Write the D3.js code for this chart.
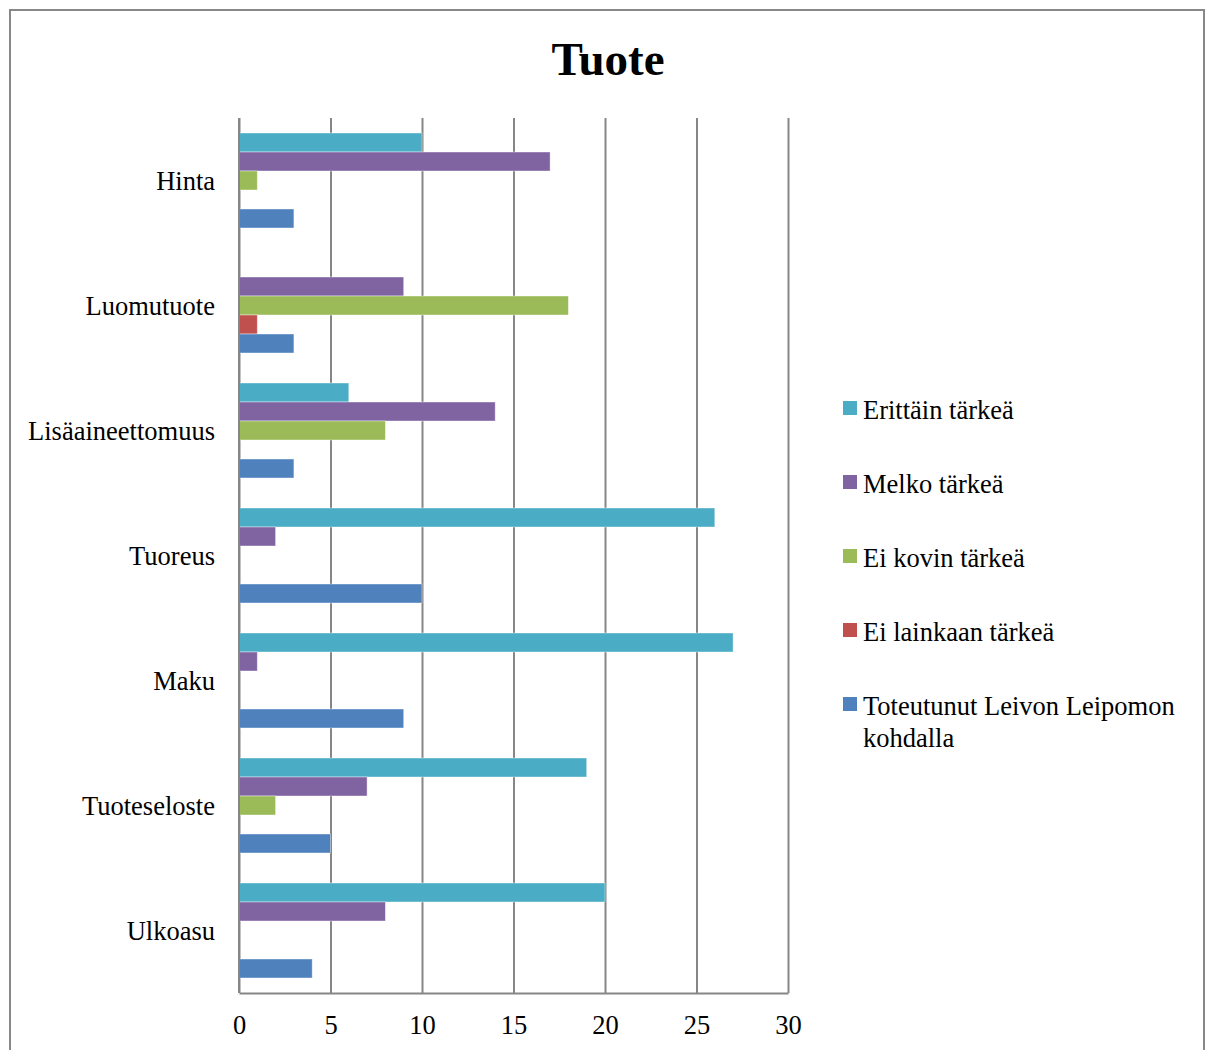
<!DOCTYPE html>
<html>
<head>
<meta charset="utf-8">
<script src="https://cdn.jsdelivr.net/npm/d3@7"></script>
<style>
  body { margin: 0; background: #fff; }
  text { font-family: "Liberation Serif", "Times New Roman", serif; fill: #000; }
</style>
</head>
<body>
<svg></svg>
<script>
var width = 1211;
var height = 1050;

var categories = ['Hinta', 'Luomutuote', 'Lisäaineettomuus', 'Tuoreus', 'Maku', 'Tuoteseloste', 'Ulkoasu'];
var seriesNames = ['Erittäin tärkeä', 'Melko tärkeä', 'Ei kovin tärkeä', 'Ei lainkaan tärkeä', 'Toteutunut Leivon Leipomon kohdalla'];
var seriesColors = ['#4bacc6', '#8064a2', '#9bbb59', '#c0504d', '#4f81bd'];

// one array per series, in category order
var erittain = [10, 0, 6, 26, 27, 19, 20];
var melko = [17, 9, 14, 2, 1, 7, 8];
var eiKovin = [1, 18, 8, 0, 0, 2, 0];
var eiLainkaan = [0, 1, 0, 0, 0, 0, 0];
var toteutunut = [3, 3, 3, 10, 9, 5, 4];
var xTicks = [0, 5, 10, 15, 20, 25, 30];

var seriesValues = [erittain, melko, eiKovin, eiLainkaan, toteutunut];

var plot = { left: 239, right: 788, top: 118, bottom: 993 };
var fontSize = '26.5px';

var svg = d3.select('svg')
    .attr('width', width)
    .attr('height', height);

// outer frame
svg.append('rect')
    .attr('x', 10)
    .attr('y', 10)
    .attr('width', 1194)
    .attr('height', 1100)
    .attr('fill', '#fff')
    .attr('stroke', '#888')
    .attr('stroke-width', 2);

var xScale = d3.scaleLinear()
    .domain([0, 30])
    .range([plot.left, plot.right]);

var yScale = d3.scaleBand()
    .domain(categories)
    .range([plot.top, plot.bottom]);

var ySub = d3.scaleBand()
    .domain(seriesNames)
    .range([15, yScale.bandwidth() - 15]);

// gridlines
var xAxis = d3.axisBottom(xScale)
    .tickValues(xTicks)
    .tickSize(-(plot.bottom - plot.top))
    .tickSizeOuter(0)
    .tickPadding(22);

var gx = svg.append('g')
    .attr('transform', `translate(0, ${plot.bottom})`)
    .call(xAxis);
gx.select('.domain').attr('stroke', '#868686').attr('stroke-width', 2);
gx.selectAll('.tick line').attr('stroke', '#868686').attr('stroke-width', 2);
gx.selectAll('.tick text')
    .style('font-family', '"Liberation Serif", "Times New Roman", serif')
    .style('font-size', fontSize)
    .attr('fill', '#000');

// bars
var groups = svg.selectAll('g.cat')
  .data(categories)
  .enter()
  .append('g')
    .attr('class', 'cat')
    .attr('transform', d => `translate(0, ${yScale(d)})`);

groups.selectAll('rect')
  .data((d, i) => seriesNames.map((s, j) => ({ series: s, value: seriesValues[j][i], color: seriesColors[j] })))
  .enter()
  .append('rect')
    .attr('x', xScale(0))
    .attr('y', d => ySub(d.series))
    .attr('width', d => xScale(d.value) - xScale(0))
    .attr('height', ySub.bandwidth())
    .attr('fill', d => d.color)
    .attr('stroke', d => d.value > 0 ? 'rgba(255,255,255,0.5)' : 'none')
    .attr('stroke-width', 0.8);

// left axis line sits over bars
svg.append('line')
    .attr('x1', plot.left)
    .attr('x2', plot.left)
    .attr('y1', plot.top)
    .attr('y2', plot.bottom)
    .attr('stroke', '#868686')
    .attr('stroke-width', 2);

// category labels
svg.selectAll('text.cat-label')
  .data(categories)
  .enter()
  .append('text')
    .attr('class', 'cat-label')
    .attr('x', 215)
    .attr('y', d => yScale(d) + yScale.bandwidth() / 2)
    .attr('dy', '0.36em')
    .style('text-anchor', 'end')
    .style('font-size', fontSize)
    .text(d => d);

// title
svg.append('text')
    .attr('x', 608)
    .attr('y', 75)
    .style('text-anchor', 'middle')
    .style('font-size', '47px')
    .style('font-weight', 'bold')
    .text('Tuote');

// legend
var legend = svg.selectAll('g.legend')
  .data(seriesNames)
  .enter()
  .append('g')
    .attr('class', 'legend')
    .attr('transform', (d, i) => `translate(843, ${419 + i * 74})`);

legend.append('rect')
    .attr('x', 0)
    .attr('y', -18)
    .attr('width', 14)
    .attr('height', 14)
    .attr('fill', (d, i) => seriesColors[i]);

legend.append('text')
    .attr('x', 20)
    .attr('y', 0)
    .style('font-size', fontSize)
    .each(function(d) {
      var t = d3.select(this);
      var lines = d === 'Toteutunut Leivon Leipomon kohdalla' ? ['Toteutunut Leivon Leipomon', 'kohdalla'] : [d];
      lines.forEach((l, k) => {
        t.append('tspan').attr('x', 20).attr('dy', k === 0 ? 0 : 32).text(l);
      });
    });
</script>
</body>
</html>
